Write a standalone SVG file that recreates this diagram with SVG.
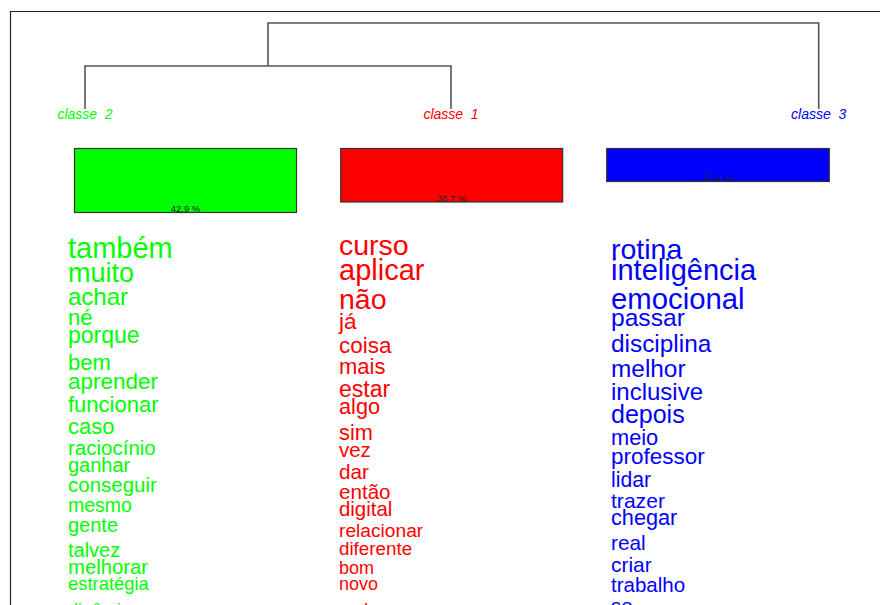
<svg xmlns="http://www.w3.org/2000/svg" width="880" height="605" viewBox="0 0 880 605">
  <style>
    .frame { fill: none; stroke: #222; stroke-width: 1.2; }
    .tree { fill: none; stroke: #555; stroke-width: 1.6; }
    .lbl { font-family: "Liberation Sans", Arial, sans-serif; font-style: italic; font-size: 14px; text-anchor: middle; white-space: pre; }
    .bar { stroke: #333; stroke-width: 1.2; }
    .pct { font-family: "Liberation Sans", Arial, sans-serif; font-size: 9.5px; text-anchor: middle; fill: #222; }
    .w { font-family: "Liberation Sans", Arial, sans-serif; }
    .g { fill: #00ff00; }
    .r { fill: #ff0000; }
    .b { fill: #0000ff; }
  </style>
  <rect width="880" height="605" fill="#ffffff"/>
  <!-- plot frame -->
  <path class="frame" d="M10.5 605 V11.5 H880"/>

  <!-- dendrogram links -->
  <g id="connectors">
    <path class="tree" d="M268 66 V23 H818.7 V109"/>
    <path class="tree" d="M85 109 V66 H451 V109"/>
  </g>

  <!-- class 2 -->
  <g id="classe2">
    <text class="lbl g" x="85" y="119">classe  2</text>
    <rect class="bar" x="74.5" y="148.5" width="222" height="64" fill="#00ff00"/>
    <text class="pct" x="185.5" y="212">42.9 %</text>
    <g class="w g">
      <text x="68" y="258" font-size="29">também</text>
      <text x="68" y="281.5" font-size="27">muito</text>
      <text x="68" y="305" font-size="24">achar</text>
      <text x="68" y="325" font-size="22">né</text>
      <text x="68" y="342.5" font-size="23">porque</text>
      <text x="68" y="370" font-size="22">bem</text>
      <text x="68" y="388.5" font-size="22.5">aprender</text>
      <text x="68" y="412" font-size="22">funcionar</text>
      <text x="68" y="433.5" font-size="22">caso</text>
      <text x="68" y="455" font-size="20.5">raciocínio</text>
      <text x="68" y="471.5" font-size="20">ganhar</text>
      <text x="68" y="491.5" font-size="20.5">conseguir</text>
      <text x="68" y="511.5" font-size="19.5">mesmo</text>
      <text x="68" y="531.5" font-size="20">gente</text>
      <text x="68" y="556.5" font-size="20">talvez</text>
      <text x="68" y="573.5" font-size="20.3">melhorar</text>
      <text x="68" y="590" font-size="18.4">estratégia</text>
      <text x="68" y="616" font-size="18">dinâmica</text>
    </g>
  </g>

  <!-- class 1 -->
  <g id="classe1">
    <text class="lbl r" x="451" y="119">classe  1</text>
    <rect class="bar" x="340.7" y="148.5" width="222" height="53.5" fill="#ff0000"/>
    <text class="pct" x="451.7" y="202">35.7 %</text>
    <g class="w r">
      <text x="339" y="254.5" font-size="28.5">curso</text>
      <text x="339" y="279.5" font-size="29">aplicar</text>
      <text x="339" y="308.5" font-size="28.5">não</text>
      <text x="339" y="328.5" font-size="22.5">já</text>
      <text x="339" y="352.5" font-size="22.5">coisa</text>
      <text x="339" y="374" font-size="22">mais</text>
      <text x="339" y="396.5" font-size="23">estar</text>
      <text x="339" y="414" font-size="21.7">algo</text>
      <text x="339" y="440" font-size="21.8">sim</text>
      <text x="339" y="456.5" font-size="20.4">vez</text>
      <text x="339" y="478.5" font-size="20.7">dar</text>
      <text x="339" y="498.5" font-size="20.6">então</text>
      <text x="339" y="516" font-size="20.4">digital</text>
      <text x="339" y="536.5" font-size="19.2">relacionar</text>
      <text x="339" y="555" font-size="18.8">diferente</text>
      <text x="339" y="573.5" font-size="18">bom</text>
      <text x="339" y="590" font-size="18">novo</text>
      <text x="339" y="616" font-size="18">cada</text>
    </g>
  </g>

  <!-- class 3 -->
  <g id="classe3">
    <text class="lbl b" x="818.7" y="119">classe  3</text>
    <rect class="bar" x="606.7" y="148.5" width="222.6" height="33" fill="#0000ff"/>
    <text class="pct" x="718" y="181">21.4 %</text>
    <g class="w b">
      <text x="611" y="258.5" font-size="28.5">rotina</text>
      <text x="611" y="280" font-size="29">inteligência</text>
      <text x="611" y="308.5" font-size="29.3">emocional</text>
      <text x="611" y="326" font-size="24.6">passar</text>
      <text x="611" y="351.5" font-size="24.4">disciplina</text>
      <text x="611" y="376.5" font-size="24.4">melhor</text>
      <text x="611" y="400" font-size="24">inclusive</text>
      <text x="611" y="422.5" font-size="25">depois</text>
      <text x="611" y="445" font-size="21.8">meio</text>
      <text x="611" y="464" font-size="22.5">professor</text>
      <text x="611" y="486.5" font-size="21.2">lidar</text>
      <text x="611" y="507.5" font-size="21.1">trazer</text>
      <text x="611" y="525" font-size="21.7">chegar</text>
      <text x="611" y="550" font-size="20.8">real</text>
      <text x="611" y="571.5" font-size="20.9">criar</text>
      <text x="611" y="591.5" font-size="20.5">trabalho</text>
      <text x="611" y="613" font-size="20.5">so</text>
    </g>
  </g>
</svg>
